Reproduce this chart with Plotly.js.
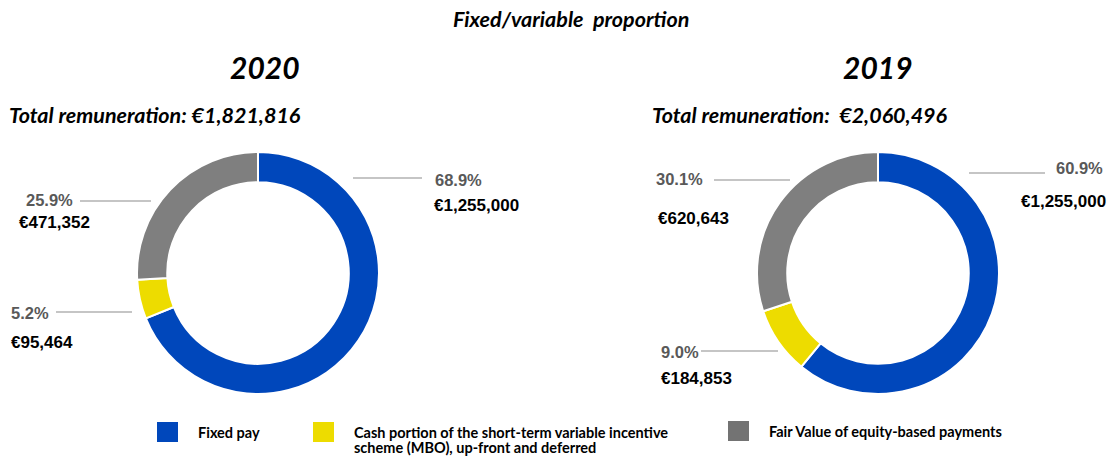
<!DOCTYPE html>
<html>
<head>
<meta charset="utf-8">
<script src="https://cdn.plot.ly/plotly-3.0.1.min.js"></script>
<style>html,body{margin:0;padding:0;background:#fff;}#chart{width:1108px;height:457px;}</style>
</head>
<body>
<div id="chart"></div>
<script>
// ---- data ----
const categories = ["Fixed pay", "Cash portion of the short-term variable incentive scheme (MBO), up-front and deferred", "Fair Value of equity-based payments"];
const legendLines = [["Fixed pay"], ["Cash portion of the short-term variable incentive", "scheme (MBO), up-front and deferred"], ["Fair Value of equity-based payments"]];
const years = ["2020", "2019"];
const values2020 = [1255000, 95464, 471352];
const values2019 = [1255000, 184853, 620643];
const totals = [1821816, 2060496];
const colors = ["#0047BB", "#EDDC00", "#7F7F7F"];
const legendColors = ["#0047BB", "#EDDC00", "#737373"];

// ---- layout helpers ----
const W = 1108, H = 457;
const px = x => x / W;
const py = y => 1 - y / H;
const fmtEur = v => "€" + v.toLocaleString("en-US");
const pct = (v, t) => (v / t * 100).toFixed(1) + "%";

const titleFont = {family: "Lato, 'Open Sans', sans-serif", color: "#000"};
const labelFamily = "'Liberation Sans', Arial, sans-serif";

function pieTrace(vals, cx, cy, r) {
  return {
    type: "pie", values: vals, labels: categories, sort: false,
    direction: "clockwise", rotation: 0, hole: 0.75,
    marker: {colors: colors, line: {color: "#fff", width: 2}},
    textinfo: "none", hoverinfo: "label+value+percent", showlegend: false,
    domain: {x: [px(cx - r), px(cx + r)], y: [py(cy + r), py(cy - r)]}
  };
}

const data = [
  pieTrace(values2020, 258, 273, 121),
  pieTrace(values2019, 878, 273, 121)
];

const annotations = [];
const shapes = [];
function txt(text, x, y, font, xanchor) {
  annotations.push({text: text, x: px(x), y: py(y), xref: "paper", yref: "paper",
    xanchor: xanchor || "left", yanchor: "middle", showarrow: false, font: font});
}
function line(x0, x1, y) {
  shapes.push({type: "line", xref: "paper", yref: "paper", x0: px(x0), x1: px(x1), y0: py(y), y1: py(y),
    line: {color: "#8c8c8c", width: 1.2}});
}

// titles
txt("<b><i>Fixed/variable  proportion</i></b>", 571, 19, Object.assign({size: 21.5}, titleFont), "center");
txt("<b><i>" + years[0] + "</i></b>", 265, 67, Object.assign({size: 30}, titleFont), "center");
txt("<b><i>" + years[1] + "</i></b>", 878, 67, Object.assign({size: 30}, titleFont), "center");
txt("<b><i>Total remuneration: " + fmtEur(totals[0]) + "</i></b>", 7, 115, Object.assign({size: 21.5}, titleFont), "left");
txt("<b><i>Total remuneration:  " + fmtEur(totals[1]) + "</i></b>", 650, 115, Object.assign({size: 21.5}, titleFont), "left");

const pctFont = {family: labelFamily, size: 16.5, color: "#595959"};
const eurFont = {family: labelFamily, size: 17, color: "#000"};
const t20 = values2020.reduce((a, b) => a + b, 0);
const t19 = values2019.reduce((a, b) => a + b, 0);

// 2020 labels
txt("<b>" + pct(values2020[0], t20) + "</b>", 433, 180, pctFont);
txt("<b>" + fmtEur(values2020[0]) + "</b>", 432, 205, eurFont);
line(353, 422, 178);
txt("<b>" + pct(values2020[2], t20) + "</b>", 24, 200, pctFont);
txt("<b>" + fmtEur(values2020[2]) + "</b>", 17, 223, eurFont);
line(80, 151, 201);
txt("<b>" + pct(values2020[1], t20) + "</b>", 9, 313, pctFont);
txt("<b>" + fmtEur(values2020[1]) + "</b>", 9, 342, eurFont);
line(56, 132, 312);

// 2019 labels
txt("<b>" + pct(values2019[0], t19) + "</b>", 1054, 168, pctFont);
txt("<b>" + fmtEur(values2019[0]) + "</b>", 1019, 201, eurFont);
line(969, 1045, 173);
txt("<b>" + pct(values2019[2], t19) + "</b>", 654, 179, pctFont);
txt("<b>" + fmtEur(values2019[2]) + "</b>", 656, 218, eurFont);
line(714, 790, 180);
txt("<b>" + pct(values2019[1], t19) + "</b>", 659, 352, pctFont);
txt("<b>" + fmtEur(values2019[1]) + "</b>", 659, 378, eurFont);
line(701, 778, 351);

// legend
const legendX = [157, 313, 728];
const legendY = [432, 432, 431];
const legFont = {family: "Lato, 'Open Sans', sans-serif", size: 14.5, color: "#000"};
legendLines.forEach((ls, i) => {
  shapes.push({type: "rect", xref: "paper", yref: "paper",
    x0: px(legendX[i]), x1: px(legendX[i] + 21), y0: py(legendY[i] + 10), y1: py(legendY[i] - 10),
    fillcolor: legendColors[i], line: {width: 0}});
  ls.forEach((l, j) => txt("<b>" + l + "</b>", legendX[i] + 39, legendY[i] + j * 15.5, legFont));
});

const layout = {
  width: W, height: H, margin: {l: 0, r: 0, t: 0, b: 0},
  paper_bgcolor: "#fff", plot_bgcolor: "#fff",
  showlegend: false, annotations: annotations, shapes: shapes
};
Plotly.newPlot("chart", data, layout, {displayModeBar: false, staticPlot: true});
</script>
</body>
</html>
